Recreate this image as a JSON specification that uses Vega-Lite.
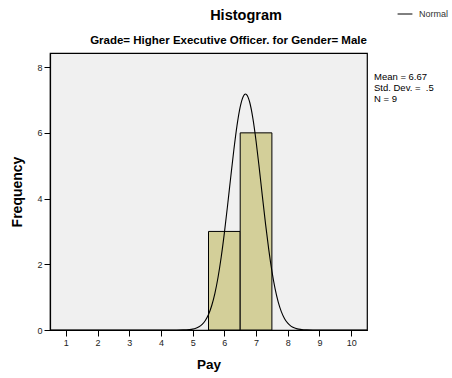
{
  "$schema": "https://vega.github.io/schema/vega-lite/v6.json",
  "width": 317,
  "height": 277,
  "autosize": "none",
  "padding": {"left": 50, "top": 53, "right": 85, "bottom": 48},
  "background": "#ffffff",
  "config": {
    "font": "Liberation Sans",
    "view": {"fill": "#f0f0f0", "stroke": "#000000", "strokeWidth": 1.2},
    "axis": {"grid": false, "domainColor": "#000000", "tickColor": "#000000", "labelColor": "#222222", "titleColor": "#000000", "labelFont": "Liberation Sans", "titleFont": "Liberation Sans"}
  },
  "title": {"text": "Histogram", "fontSize": 14.5, "fontWeight": "bold", "color": "#000000", "anchor": "middle", "dx": 37.5, "offset": 6, "dy": 23},
  "layer": [
    {
      "data": {"values": [
        {"start": 5.5, "end": 6.5, "count": 3},
        {"start": 6.5, "end": 7.5, "count": 6}
      ]},
      "mark": {"type": "rect", "fill": "#d3cf99", "stroke": "#000000", "strokeWidth": 1},
      "encoding": {
        "x": {"field": "start", "type": "quantitative", "scale": {"domain": [0.5, 10.5], "nice": false, "zero": false},
          "axis": {"orient": "bottom", "title": "Pay", "values": [1,2,3,4,5,6,7,8,9,10], "tickSize": 6, "labelFontSize": 9, "labelPadding": 2, "titleFontSize": 13.5, "titleFontWeight": "bold", "titlePadding": 10, "domainWidth": 1.2}},
        "x2": {"field": "end"},
        "y": {"field": "count", "type": "quantitative", "scale": {"domain": [0, 8.43], "nice": false},
          "axis": {"title": "Frequency", "values": [0,2,4,6,8], "tickSize": 6, "labelFontSize": 9, "labelPadding": 2, "titleFontSize": 14, "titleFontWeight": "bold", "titlePadding": 12, "domainWidth": 1.2}}
      }
    },
    {
      "data": {"values": [
        {"x": 0.5, "y": 0}, {"x": 4.5, "y": 0.0006}, {"x": 4.7, "y": 0.003}, {"x": 4.8, "y": 0.0067}, {"x": 4.9, "y": 0.0139},
        {"x": 5.0, "y": 0.0276}, {"x": 5.1, "y": 0.0529}, {"x": 5.2, "y": 0.097}, {"x": 5.3, "y": 0.171}, {"x": 5.4, "y": 0.29},
        {"x": 5.5, "y": 0.471}, {"x": 5.6, "y": 0.737}, {"x": 5.7, "y": 1.107}, {"x": 5.8, "y": 1.597}, {"x": 5.9, "y": 2.214},
        {"x": 6.0, "y": 2.949}, {"x": 6.1, "y": 3.775}, {"x": 6.2, "y": 4.643}, {"x": 6.3, "y": 5.485}, {"x": 6.4, "y": 6.227},
        {"x": 6.5, "y": 6.791}, {"x": 6.6, "y": 7.117}, {"x": 6.667, "y": 7.181}, {"x": 6.7, "y": 7.165}, {"x": 6.8, "y": 6.931},
        {"x": 6.9, "y": 6.442}, {"x": 7.0, "y": 5.753}, {"x": 7.1, "y": 4.935}, {"x": 7.2, "y": 4.068}, {"x": 7.3, "y": 3.222},
        {"x": 7.4, "y": 2.452}, {"x": 7.5, "y": 1.792}, {"x": 7.6, "y": 1.259}, {"x": 7.7, "y": 0.85}, {"x": 7.8, "y": 0.551},
        {"x": 7.9, "y": 0.343}, {"x": 8.0, "y": 0.206}, {"x": 8.1, "y": 0.118}, {"x": 8.2, "y": 0.065}, {"x": 8.3, "y": 0.035},
        {"x": 8.4, "y": 0.018}, {"x": 8.5, "y": 0.0087}, {"x": 8.6, "y": 0.004}, {"x": 8.8, "y": 0.0008}, {"x": 9.0, "y": 0},
        {"x": 10.5, "y": 0}
      ]},
      "mark": {"type": "line", "strokeWidth": 1.1, "interpolate": "monotone"},
      "encoding": {
        "x": {"field": "x", "type": "quantitative",
          "axis": {"orient": "top", "title": "Grade= Higher Executive Officer. for Gender= Male", "labels": false, "ticks": false, "domain": false, "titleFontSize": 11.5, "titleFontWeight": "bold", "titleX": 178, "titleY": -13, "titleAlign": "center", "titleBaseline": "middle"}},
        "y": {"field": "y", "type": "quantitative", "title": "Frequency"},
        "stroke": {"datum": "Normal", "type": "nominal", "scale": {"range": ["#000000"]},
          "legend": {"title": null, "orient": "none", "legendX": 347, "legendY": -47, "symbolType": "stroke", "symbolSize": 220, "symbolStrokeWidth": 1, "labelFontSize": 9, "labelOffset": 6, "labelColor": "#333333"}}
      }
    },
    {
      "data": {"values": [{"mean": 6.67, "sd": 0.5, "n": 9}]},
      "mark": {"type": "text", "align": "left", "baseline": "top", "fontSize": 9.5, "lineHeight": 11, "color": "#000000"},
      "encoding": {
        "x": {"datum": 10.72, "type": "quantitative", "axis": null},
        "y": {"datum": 7.85, "type": "quantitative", "title": "Frequency"},
        "text": {"value": ["Mean = 6.67", "Std. Dev. = \u00a0.5", "N = 9"]}
      }
    }
  ],
  "resolve": {"axis": {"x": "independent"}}
}
